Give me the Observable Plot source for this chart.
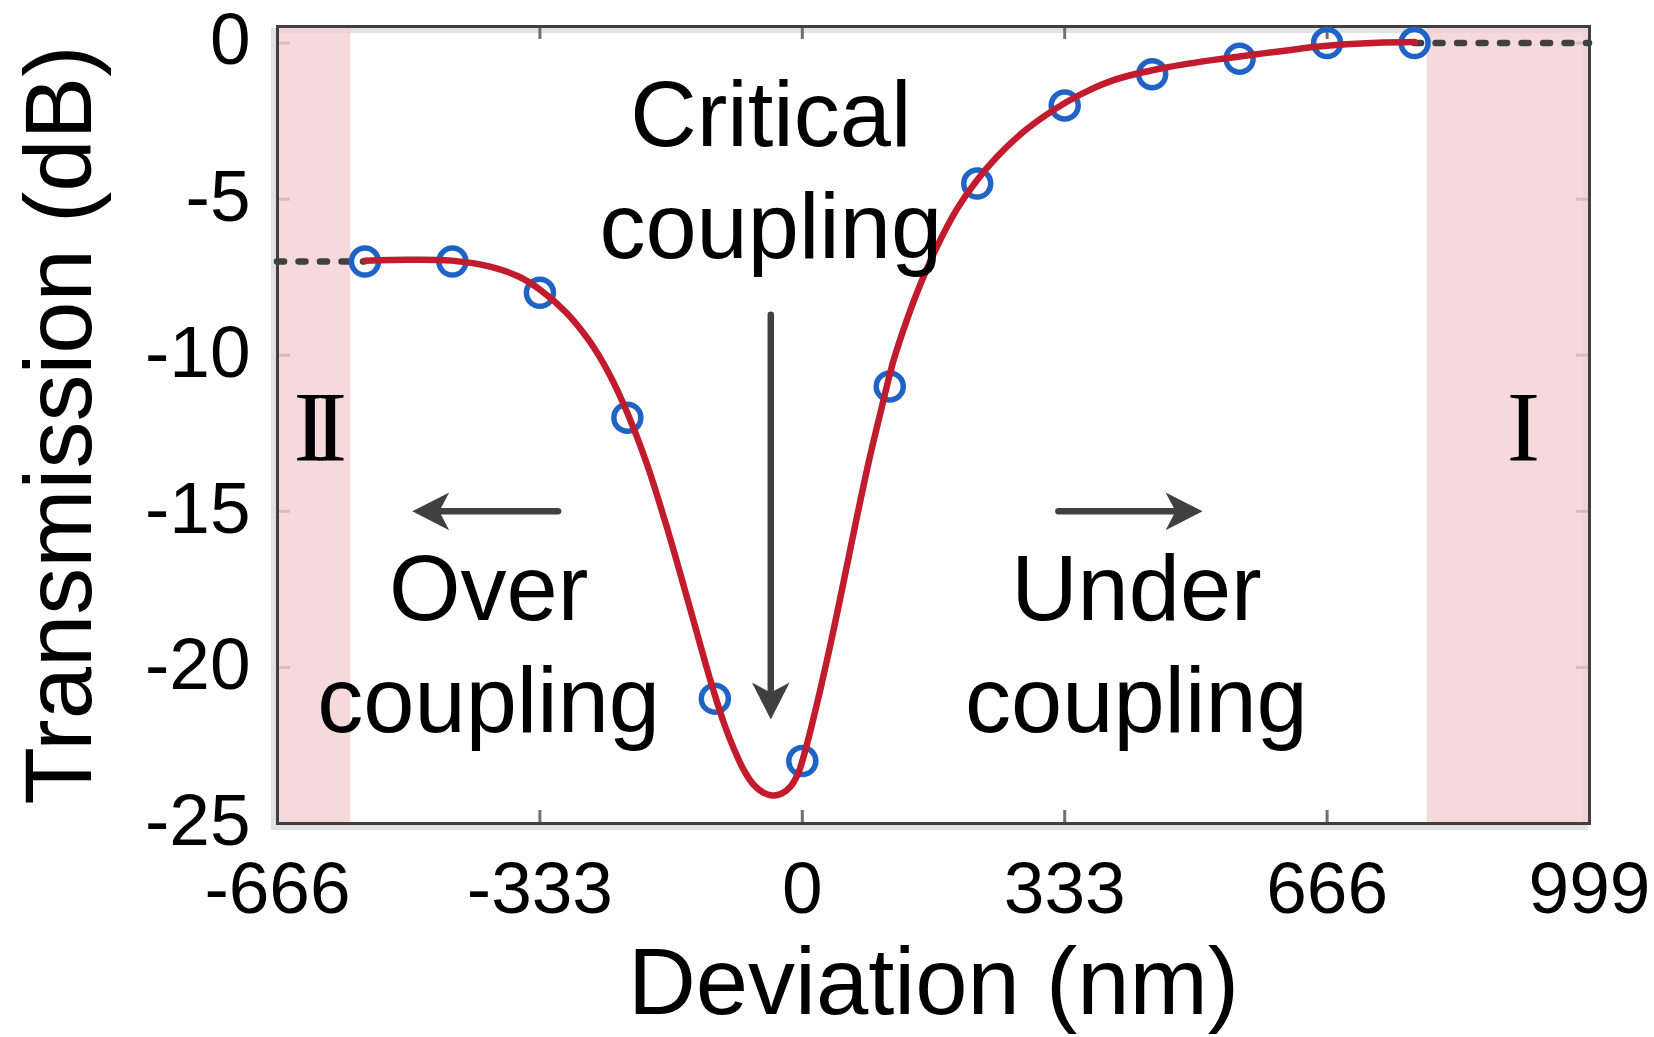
<!DOCTYPE html>
<html>
<head>
<meta charset="utf-8">
<script src="https://cdn.jsdelivr.net/npm/d3@7"></script>
<script src="https://cdn.jsdelivr.net/npm/@observablehq/plot@0.6"></script>
<style>
  html, body { margin: 0; padding: 0; background: #fff; }
  #chart svg { display: block; }
</style>
</head>
<body>
<div id="chart"></div>
<script>
// Measured transmission dip versus waveguide deviation
const measuredDeviation = [-555, -444, -333, -222, -111, 0, 111, 222, 333, 444, 555, 666, 777];
const measuredTransmission = [-7.0, -7.0, -8.0, -12.0, -21.0, -23.0, -11.0, -4.5, -2.0, -1.0, -0.5, 0.0, 0.0];

// Fitted curve through the measurements
const fitDeviation = [
  -555, -500, -445, -395, -360, -333, -300, -270, -245, -222, -197, -172, -147, -122, -112,
  -100, -87, -74, -62, -50, -38, -26, -15, -5, 0, 6, 14, 23, 35, 48, 59, 70, 84, 99, 116,
  133, 150, 171, 196, 220, 248, 277, 305, 336, 365, 395, 425, 458, 490, 522, 555, 585, 620,
  649, 690, 730, 777
];
const fitTransmission = [
  -6.97, -6.94, -6.97, -7.17, -7.48, -7.90, -8.62, -9.55, -10.60, -11.85, -13.50, -15.50, -17.70, -19.95, -20.80,
  -21.75, -22.60, -23.30, -23.75, -24.00, -24.10, -24.04, -23.82, -23.38, -23.00, -22.45, -21.65, -20.70, -19.35, -17.80, -16.45, -15.10, -13.45, -11.86, -10.15,
  -8.85, -7.72, -6.52, -5.33, -4.45, -3.62, -2.92, -2.38, -1.88, -1.50, -1.19, -0.98, -0.80, -0.66, -0.54, -0.43, -0.33, -0.22,
  -0.13, -0.04, 0.01, 0.03
];

// Axis ticks
const xTicks = [-666, -333, 0, 333, 666, 999];
const yTicks = [0, -5, -10, -15, -20, -25];

// Shaded regimes I and II
const regionStart = [-666, 793];
const regionEnd = [-573, 999];
const regionNames = ["II", "I"];
const regionLabelX = [-620, 915];
const regionLabelY = [-13.35, -13.35];

// Dashed asymptotes beyond the measured range
const asymptoteLevel = [-7, 0];
const asymptoteFrom = [-666, 777];
const asymptoteTo = [-555, 999];

// Annotations
const annotationText = ["Critical\ncoupling", "Over\ncoupling", "Under\ncoupling"];
const annotationX = [-40, -398, 424];
const annotationY = [-6.9, -22.08, -22.08];

// Annotation arrows (start -> tip)
const arrowX1 = [-40, -310, 325];
const arrowY1 = [-8.7, -15, -15];
const arrowX2 = [-40, -495, 508];
const arrowY2 = [-21.67, -15, -15];

// ---- tables built from the arrays above ----
const measured = measuredDeviation.map((x, i) => ({x, y: measuredTransmission[i]}));
const fit = fitDeviation.map((x, i) => ({x, y: fitTransmission[i]}));
const regions = regionStart.map((x1, i) => ({x1, x2: regionEnd[i]}));
const regionLabels = regionNames.map((t, i) => ({t, x: regionLabelX[i], y: regionLabelY[i]}));
const asymptotes = asymptoteLevel.map((y, i) => ({y, x1: asymptoteFrom[i], x2: asymptoteTo[i]}));
const annotations = annotationText.map((t, i) => ({t, x: annotationX[i], y: annotationY[i]}));
const arrows = arrowX1.map((x1, i) => {
  const x2 = arrowX2[i], y1 = arrowY1[i], y2 = arrowY2[i];
  const angle = x1 === x2 ? (y2 < y1 ? 0 : 180) : (x2 < x1 ? 90 : -90);
  return {x1, y1, x2, y2, angle};
});

// Filled arrowhead with a notched back, pointing down from its tip
const arrowHead = {
  draw(context, size) {
    const s = Math.sqrt(size / Math.PI);
    context.moveTo(0, 0);
    context.lineTo(-0.51 * s, -s);
    context.lineTo(0, -0.73 * s);
    context.lineTo(0.51 * s, -s);
    context.closePath();
  }
};

const W = 1654, H = 1037;
const mL = 277, mR = 65, mT = 26, mB = 214;
const innerW = W - mL - mR, innerH = H - mT - mB;
const tickLen = 13;
const sans = "'Liberation Sans', Arial, Helvetica, sans-serif";
const serif = "'Liberation Serif', 'Times New Roman', serif";
const dark = "#404040";
const tickColor = "#707070";

const chart = Plot.plot({
  width: W,
  height: H,
  marginLeft: mL,
  marginRight: mR,
  marginTop: mT,
  marginBottom: mB,
  x: {domain: [-666, 999], axis: null},
  y: {domain: [-25, 0.53], axis: null},
  style: {fontFamily: sans, background: "#fff", color: "#000"},
  marks: [
    // soft shadow of the axes box
    Plot.frame({stroke: "#e2e2e2", strokeWidth: 5, dx: -4, dy: 4}),
    // inward ticks on all four sides
    Plot.ruleX(xTicks, {x: d => d, insetTop: innerH - tickLen, stroke: tickColor, strokeWidth: 3}),
    Plot.ruleX(xTicks, {x: d => d, insetBottom: innerH - tickLen, stroke: tickColor, strokeWidth: 3}),
    Plot.ruleY(yTicks, {y: d => d, insetRight: innerW - tickLen, stroke: tickColor, strokeWidth: 3}),
    Plot.ruleY(yTicks, {y: d => d, insetLeft: innerW - tickLen, stroke: tickColor, strokeWidth: 3}),
    // shaded regimes
    Plot.rect(regions, {x1: "x1", x2: "x2", fill: "#f4d0d2", fillOpacity: 0.8}),
    Plot.frame({stroke: dark, strokeWidth: 3}),
    // asymptotes
    Plot.ruleY(asymptotes, {
      y: "y", x1: "x1", x2: "x2", stroke: dark, strokeWidth: 6.5,
      strokeDasharray: "7,14.5", strokeLinecap: "round"
    }),
    // measurements and fit
    Plot.dot(measured, {x: "x", y: "y", r: 13.5, stroke: "#1f63c6", strokeWidth: 5.5, fill: "none"}),
    Plot.line(fit, {x: "x", y: "y", stroke: "#c11b2d", strokeWidth: 6.5, curve: "catmull-rom"}),
    // arrows
    Plot.arrow(arrows, {
      x1: "x1", y1: "y1", x2: "x2", y2: "y2", headLength: 0, insetEnd: 24,
      stroke: dark, strokeWidth: 6.5, strokeLinecap: "round"
    }),
    Plot.dot(arrows, {x: "x2", y: "y2", r: 37, symbol: arrowHead, rotate: "angle", fill: dark, stroke: "none"}),
    // annotations
    Plot.text(annotations, {
      x: "x", y: "y", text: "t", fontSize: 92, lineHeight: 1.225,
      lineAnchor: "bottom", textAnchor: "middle", fill: "#000", fontFamily: sans
    }),
    Plot.text(regionLabels, {
      x: "x", y: "y", text: "t", fontSize: 100, lineAnchor: "bottom",
      textAnchor: "middle", fill: "#000", fontFamily: serif
    }),
    // axes
    Plot.axisX({
      anchor: "bottom", ticks: xTicks, tickSize: 0, tickPadding: 38,
      fontSize: 73, tickFormat: d => `${d}`, label: null, fill: "#000"
    }),
    Plot.axisY({
      anchor: "left", ticks: yTicks, tickSize: 0, tickPadding: 27, dy: -2,
      fontSize: 73, tickFormat: d => `${d}`, label: null, fill: "#000"
    }),
    Plot.text(["Deviation (nm)"], {
      frameAnchor: "bottom", dy: 190, lineAnchor: "bottom", textAnchor: "middle",
      fontSize: 94, fill: "#000"
    }),
    Plot.text(["Transmission (dB)"], {
      frameAnchor: "left", rotate: -90, dx: -187, lineAnchor: "bottom", textAnchor: "middle",
      fontSize: 94, fill: "#000"
    })
  ]
});

// join the two strokes of the roman numeral II
d3.select(chart).selectAll("text")
  .filter(function () { return this.textContent === "II"; })
  .style("letter-spacing", "-0.13em");

document.getElementById("chart").appendChild(chart);
</script>
</body>
</html>
